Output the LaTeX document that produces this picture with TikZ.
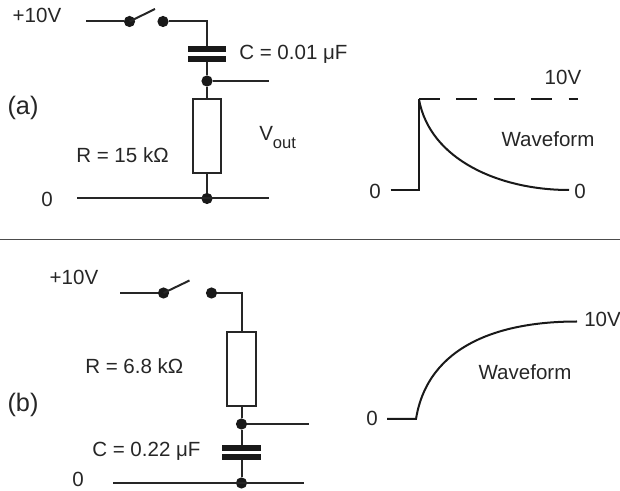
\documentclass[tikz,border=0pt]{standalone}
\usepackage{fontspec}
\setmainfont{Liberation Sans}
\tikzset{
    wire/.style={line width=0.05cm, black!85},
    dot/.style={circle, fill=black!90, inner sep=0pt, minimum size=0.28cm},
    plate/.style={fill=black!90, draw=none, minimum width=0.95cm, minimum height=0.15cm, inner sep=0pt},
    resistor/.style={rectangle, draw=black!85, fill=white, line width=0.05cm, minimum width=0.7cm, minimum height=1.85cm, inner sep=0pt},
    lbl/.style={inner sep=0pt, font=\fontsize{14.6}{17}\selectfont, text=black!85},
    partlbl/.style={inner sep=0pt, font=\fontsize{18}{21}\selectfont, text=black!85},
    wave/.style={line width=0.05cm, black!90}
}
\begin{document}
\begin{tikzpicture}[x=0.025cm, y=-0.025cm]

    \useasboundingbox (0,0) rectangle (620,491);

    % Circuit (a)
    \coordinate (ain) at (86,21.5);
    \coordinate (acorner) at (207,21.5);
    \coordinate (aout) at (269,81);
    \coordinate (agndl) at (77,198.5);
    \coordinate (agndr) at (269,198.5);
    \coordinate (ablade) at (155,9);
    \node[dot] (asw) at (129.5,21.5) {};
    \node[dot] (asx) at (163,21.5) {};
    \node[plate] (acapt) at (207,49) {};
    \node[plate] (acapb) at (207,59) {};
    \node[dot] (ajun) at (207,81) {};
    \node[resistor] (ares) at (207,136) {};
    \node[dot] (agnd) at (207,198.5) {};

    \draw[wire] (ain) -- (asw);
    \draw[wire] (asw.center) -- (ablade);
    \draw[wire] (asx) -- (acorner) -- (acapt);
    \draw[wire] (acapb) -- (ajun);
    \draw[wire] (ajun) -- (aout);
    \draw[wire] (ajun) -- (ares);
    \draw[wire] (ares) -- (agnd);
    \draw[wire] (agndl) -- (agndr);

    % Labels for circuit (a)
    \node[lbl] (alabv) at (37,15.5) {+10V};
    \node[lbl, anchor=west] (alabc) at (239,54) {C = 0.01 μF};
    \node[partlbl] (alabp) at (23,108) {(a)};
    \node[lbl, anchor=west] (alabr) at (76,155) {R = 15 kΩ};
    \node[lbl, anchor=west] (alabo) at (259,138) {V\raisebox{-0.2cm}{\fontsize{11.8}{14}\selectfont out}};
    \node[lbl] (alabz) at (47,199) {0};

    % Waveform (a)
    \coordinate (awl) at (390.5,190);
    \coordinate (awf) at (419,190);
    \coordinate (awt) at (419,99.5);
    \coordinate (awd) at (578,99.5);
    \coordinate (awe) at (569,190);
    \draw[wave] (awl) -- (awf) -- (awt);
    \draw[wave, dash pattern=on 0.525cm off 0.41cm] (awt) -- (awd);
    \draw[wave] (awt) .. controls (430,160) and (500,190) .. (awe);
    \node[lbl] (awz) at (375,191) {0};
    \node[lbl] (awy) at (580,191) {0};
    \node[lbl] (awv) at (563,77) {10V};
    \node[lbl] (awn) at (548,139) {Waveform};

    % Divider
    \coordinate (divl) at (0,239.5);
    \coordinate (divr) at (620,239.5);
    \draw[line width=0.03cm, black!70] (divl) -- (divr);

    % Circuit (b)
    \coordinate (bin) at (120,293);
    \coordinate (bcorner) at (241.5,293);
    \coordinate (bout) at (309,424);
    \coordinate (bgndl) at (113,483);
    \coordinate (bgndr) at (304,483);
    \coordinate (bblade) at (189.5,280.5);
    \node[dot] (bsw) at (163.5,293) {};
    \node[dot] (bsx) at (211.5,293) {};
    \node[resistor] (bres) at (241.5,369) {};
    \node[dot] (bjun) at (241.5,424) {};
    \node[plate] (bcapt) at (241.5,448) {};
    \node[plate] (bcapb) at (241.5,457) {};
    \node[dot] (bgnd) at (241.5,483) {};

    \draw[wire] (bin) -- (bsw);
    \draw[wire] (bsw.center) -- (bblade);
    \draw[wire] (bsx) -- (bcorner) -- (bres);
    \draw[wire] (bres) -- (bjun);
    \draw[wire] (bjun) -- (bout);
    \draw[wire] (bjun) -- (bcapt);
    \draw[wire] (bcapb) -- (bgnd);
    \draw[wire] (bgndl) -- (bgndr);

    % Labels for circuit (b)
    \node[lbl] (blabv) at (74,277) {+10V};
    \node[lbl, anchor=west] (blabr) at (85,366) {R = 6.8 kΩ};
    \node[partlbl] (blabp) at (23,405) {(b)};
    \node[lbl, anchor=west] (blabc) at (92,451) {C = 0.22 μF};
    \node[lbl] (blabz) at (78,479) {0};

    % Waveform (b)
    \coordinate (bwl) at (387,419);
    \coordinate (bwf) at (416,419);
    \coordinate (bwe) at (577,321.5);
    \draw[wave] (bwl) -- (bwf) .. controls (428,345) and (500,321.5) .. (bwe);
    \node[lbl] (bwz) at (372,418) {0};
    \node[lbl, anchor=west] (bwv) at (584,319) {10V};
    \node[lbl] (bwn) at (525,372) {Waveform};

\end{tikzpicture}
\end{document}
